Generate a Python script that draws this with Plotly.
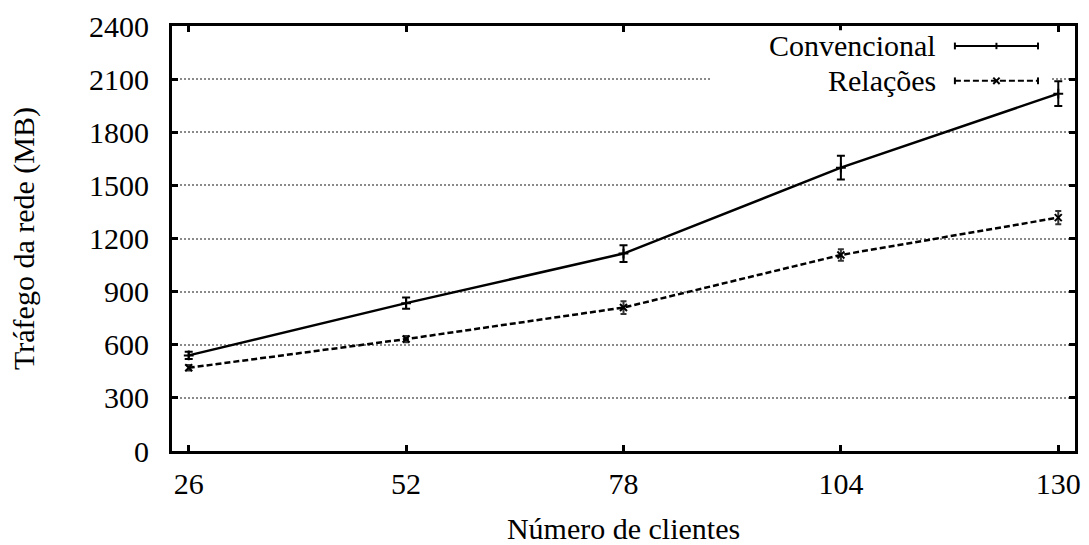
import plotly.graph_objects as go

# Network traffic (MB) by number of clients
clientes = [26, 52, 78, 104, 130]
convencional = [540, 835, 1115, 1600, 2018]
convencional_err = [20, 32, 47, 67, 70]
relacoes = [470, 632, 810, 1107, 1318]
relacoes_err = [15, 18, 36, 33, 38]

y_ticks = [0, 300, 600, 900, 1200, 1500, 1800, 2100, 2400]

FONT = "Times New Roman, Liberation Serif, serif"
FS = 30

fig = go.Figure()

fig.add_trace(go.Scatter(
    x=clientes, y=convencional, name="Convencional", mode="lines+markers",
    line=dict(color="black", width=2.5),
    marker=dict(symbol="cross-thin", size=7, line=dict(color="black", width=2)),
    error_y=dict(type="data", array=convencional_err, color="black",
                 thickness=2, width=4),
    showlegend=False,
))
fig.add_trace(go.Scatter(
    x=clientes, y=relacoes, name="Relações", mode="lines+markers",
    line=dict(color="black", width=2.5, dash="6px,3px"),
    marker=dict(symbol="x-thin", size=7, line=dict(color="black", width=2)),
    error_y=dict(type="data", array=relacoes_err, color="#333333",
                 thickness=2, width=3),
    showlegend=False,
))

# key area: blank out the grid behind it
fig.add_shape(type="rect", xref="paper", yref="paper",
              x0=0.598, x1=0.974, y0=0.84, y1=0.99,
              fillcolor="white", line=dict(width=0), layer="above")

# key entries: label, sample line with end caps and symbol
def key_entry(label, yp, dash, symbol):
    x0, x1 = 0.867, 0.959
    xm = (x0 + x1) / 2
    fig.add_annotation(xref="paper", yref="paper", x=0.848, y=yp,
                       text=label, showarrow=False, xanchor="right",
                       yanchor="middle",
                       font=dict(family=FONT, size=FS, color="black"))
    fig.add_shape(type="line", xref="paper", yref="paper",
                  x0=x0, x1=x1, y0=yp, y1=yp,
                  line=dict(color="black", width=2, dash=dash))
    for xc in (x0, x1):
        fig.add_shape(type="line", xref="paper", yref="paper",
                      x0=xc, x1=xc, y0=yp - 0.008, y1=yp + 0.008,
                      line=dict(color="black", width=2))
    dx, dy = 0.0035, 0.0075
    if symbol == "plus":
        fig.add_shape(type="line", xref="paper", yref="paper",
                      x0=xm, x1=xm, y0=yp - dy, y1=yp + dy,
                      line=dict(color="black", width=2))
    else:
        fig.add_shape(type="line", xref="paper", yref="paper",
                      x0=xm - dx, x1=xm + dx, y0=yp - dy, y1=yp + dy,
                      line=dict(color="black", width=2))
        fig.add_shape(type="line", xref="paper", yref="paper",
                      x0=xm - dx, x1=xm + dx, y0=yp + dy, y1=yp - dy,
                      line=dict(color="black", width=2))

key_entry("Convencional", 0.953, "solid", "plus")
key_entry("Relações", 0.871, "6px,3px", "x")

fig.update_xaxes(
    range=[24, 132], tickvals=clientes, ticktext=[str(c) for c in clientes],
    showgrid=False, zeroline=False, automargin=False,
    showline=True, linecolor="black", linewidth=3, mirror="allticks",
    ticks="inside", ticklen=6, tickwidth=3, tickcolor="black",
    ticklabelstandoff=4,
    tickfont=dict(family=FONT, size=FS, color="black"),
    title=dict(text="Número de clientes", standoff=20,
               font=dict(family=FONT, size=FS, color="black")),
)
fig.update_yaxes(
    range=[0, 2400], tickvals=y_ticks, ticktext=[str(v) for v in y_ticks],
    showgrid=True, gridcolor="#8a8a8a", gridwidth=1.5, griddash="2px,2px",
    zeroline=False, automargin=False,
    showline=True, linecolor="black", linewidth=3, mirror="allticks",
    ticks="inside", ticklen=6, tickwidth=3, tickcolor="black",
    ticklabelstandoff=14,
    tickfont=dict(family=FONT, size=FS, color="black"),
    title=dict(text="Tráfego da rede (MB)", standoff=46,
               font=dict(family=FONT, size=FS, color="black")),
)

fig.update_layout(
    width=1089, height=545,
    margin=dict(l=172, r=14, t=26, b=94),
    paper_bgcolor="white", plot_bgcolor="white",
    showlegend=False,
)

fig.write_html("out.html")
